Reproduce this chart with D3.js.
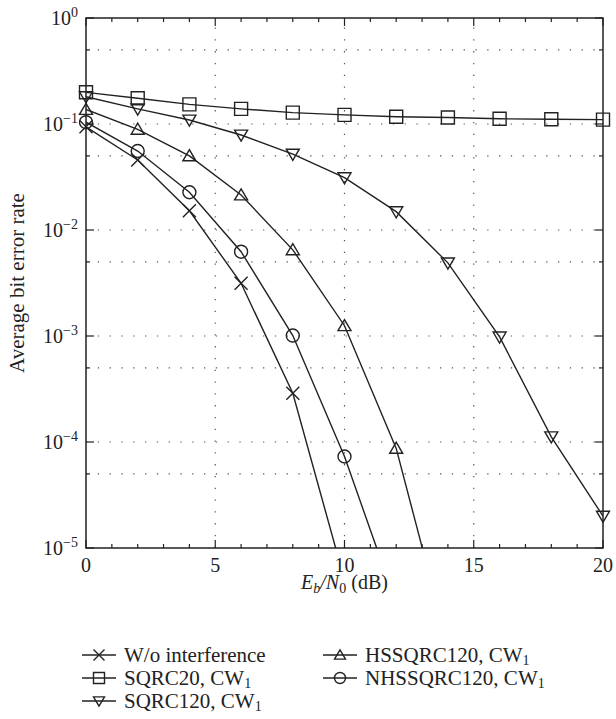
<!DOCTYPE html>
<html>
<head>
<meta charset="utf-8">
<script src="https://cdn.jsdelivr.net/npm/d3@7"></script>
<style>
  body { margin: 0; background: #fff; }
</style>
</head>
<body>
<div id="chart"></div>
<script>
//////////////////////////////////////////////////////////////////////////////
// Data

var woX   = [0, 2, 4, 6, 8, 10];
var woBer = [0.094, 0.0458, 0.0152, 0.00314, 2.88e-4, 5e-6];

var sq20X   = [0, 2, 4, 6, 8, 10, 12, 14, 16, 18, 20];
var sq20Ber = [0.199, 0.175, 0.153, 0.139, 0.128, 0.122, 0.117, 0.115, 0.112, 0.111, 0.110];

var sq120X   = [0, 2, 4, 6, 8, 10, 12, 14, 16, 18, 20];
var sq120Ber = [0.181, 0.139, 0.109, 0.0787, 0.052, 0.0312, 0.0149, 0.0049, 0.00098, 1.12e-4, 2.0e-5];

var hsX   = [0, 2, 4, 6, 8, 10, 12, 14];
var hsBer = [0.137, 0.089, 0.050, 0.0214, 0.0065, 0.00125, 8.7e-5, 1.2e-6];

var nhX   = [0, 2, 4, 6, 8, 10, 12];
var nhBer = [0.104, 0.0556, 0.0227, 0.00624, 0.00101, 7.3e-5, 3e-6];

var xTicks = [0, 5, 10, 15, 20];
var yExps  = [0, -1, -2, -3, -4, -5];

var seriesNames = ["W/o interference", "SQRC20, CW", "SQRC120, CW", "HSSQRC120, CW", "NHSSQRC120, CW"];

//////////////////////////////////////////////////////////////////////////////

var svgW = 616, svgH = 719;
var pLeft = 86, pRight = 603, pTop = 18, pBottom = 548;
var fontFam = "'Liberation Serif', 'DejaVu Serif', 'Times New Roman', serif";
var ink = "#222";

var x = d3.scaleLinear().domain([0, 20]).range([pLeft, pRight]);
var y = d3.scaleLog().domain([1e-5, 1]).range([pBottom, pTop]);

var svg = d3.select("#chart").append("svg")
    .attr("width", svgW)
    .attr("height", svgH)
    .attr("font-family", fontFam);

svg.append("defs").append("clipPath").attr("id", "plotclip")
    .append("rect")
    .attr("x", pLeft).attr("y", pTop)
    .attr("width", pRight - pLeft).attr("height", pBottom - pTop);

// grid
var gridY = [];
yExps.forEach(function(e) {
    if (e > -5 && e < 0) gridY.push(Math.pow(10, e));
    if (e < 0) gridY.push(5 * Math.pow(10, e));
});
var grid = svg.append("g")
    .attr("stroke", "#555")
    .attr("stroke-width", 1.2)
    .attr("stroke-dasharray", "1.3,10.5");
grid.selectAll(".gy").data(gridY).enter().append("line")
    .attr("x1", pLeft).attr("x2", pRight)
    .attr("y1", function(d) { return y(d); })
    .attr("y2", function(d) { return y(d); });
grid.selectAll(".gx").data([5, 10, 15]).enter().append("line")
    .attr("y1", pBottom).attr("y2", pTop)
    .attr("x1", function(d) { return x(d); })
    .attr("x2", function(d) { return x(d); });

// ticks (inward, on all four sides)
var ticks = svg.append("g").attr("stroke", ink).attr("stroke-width", 1.2);
d3.range(0, 21).forEach(function(v) {
    var len = (v % 5 === 0) ? 8 : 4;
    ticks.append("line").attr("x1", x(v)).attr("x2", x(v)).attr("y1", pBottom).attr("y2", pBottom - len);
    ticks.append("line").attr("x1", x(v)).attr("x2", x(v)).attr("y1", pTop).attr("y2", pTop + len);
});
yExps.forEach(function(e) {
    var v = Math.pow(10, e);
    ticks.append("line").attr("x1", pLeft).attr("x2", pLeft + 8).attr("y1", y(v)).attr("y2", y(v));
    ticks.append("line").attr("x1", pRight).attr("x2", pRight - 8).attr("y1", y(v)).attr("y2", y(v));
    if (e < 0) {
        var v5 = 5 * v;
        ticks.append("line").attr("x1", pLeft).attr("x2", pLeft + 4).attr("y1", y(v5)).attr("y2", y(v5));
        ticks.append("line").attr("x1", pRight).attr("x2", pRight - 4).attr("y1", y(v5)).attr("y2", y(v5));
    }
});

// box
svg.append("rect")
    .attr("x", pLeft).attr("y", pTop)
    .attr("width", pRight - pLeft).attr("height", pBottom - pTop)
    .attr("fill", "none").attr("stroke", ink).attr("stroke-width", 1.5);

// tick labels
svg.selectAll(".xl").data(xTicks).enter().append("text")
    .attr("x", function(d) { return x(d); })
    .attr("y", pBottom + 24)
    .attr("text-anchor", "middle")
    .attr("font-size", 20)
    .attr("fill", ink)
    .text(function(d) { return d; });

yExps.forEach(function(e) {
    var t = svg.append("text")
        .attr("x", pLeft - 8)
        .attr("y", y(Math.pow(10, e)) + 7)
        .attr("text-anchor", "end")
        .attr("font-size", 20)
        .attr("fill", ink);
    t.append("tspan").text("10");
    t.append("tspan").attr("dy", -8).attr("font-size", 14)
        .text(e === 0 ? "0" : "\u2212" + (-e));
});

// axis titles
var xt = svg.append("text")
    .attr("x", (pLeft + pRight) / 2)
    .attr("y", pBottom + 41)
    .attr("text-anchor", "middle")
    .attr("font-size", 20)
    .attr("fill", ink);
xt.append("tspan").attr("font-style", "italic").text("E");
xt.append("tspan").attr("font-style", "italic").attr("font-size", 14).attr("dy", 4).text("b");
xt.append("tspan").attr("font-style", "italic").attr("dy", -4).text("/N");
xt.append("tspan").attr("font-size", 14).attr("dy", 4).text("0");
xt.append("tspan").attr("dy", -4).text(" (dB)");

svg.append("text")
    .attr("transform", "translate(24," + ((pTop + pBottom) / 2) + ") rotate(-90)")
    .attr("text-anchor", "middle")
    .attr("font-size", 21)
    .attr("fill", ink)
    .text("Average bit error rate");

//////////////////////////////////////////////////////////////////////////////
// markers

function markerPath(type, s) {
    var h = s / 2;
    switch (type) {
        case "x":
            return "M" + (-h) + "," + (-h) + "L" + h + "," + h + "M" + h + "," + (-h) + "L" + (-h) + "," + h;
        case "square":
            return "M" + (-h) + "," + (-h) + "H" + h + "V" + h + "H" + (-h) + "Z";
        case "down":
            return "M" + (-h) + "," + (-h * 0.75) + "H" + h + "L0," + (h * 0.95) + "Z";
        case "up":
            return "M" + (-h) + "," + (h * 0.75) + "H" + h + "L0," + (-h * 0.95) + "Z";
        case "circle":
            return "M" + h + ",0A" + h + "," + h + " 0 1,1 " + (-h) + ",0A" + h + "," + h + " 0 1,1 " + h + ",0Z";
        default:
            return "M0,0";
    }
}

var series = [
    { name: seriesNames[0], xs: woX,    ys: woBer,    marker: "x",      sub: false },
    { name: seriesNames[1], xs: sq20X,  ys: sq20Ber,  marker: "square", sub: true },
    { name: seriesNames[2], xs: sq120X, ys: sq120Ber, marker: "down",   sub: true },
    { name: seriesNames[3], xs: hsX,    ys: hsBer,    marker: "up",     sub: true },
    { name: seriesNames[4], xs: nhX,    ys: nhBer,    marker: "circle", sub: true }
];

var line = d3.line()
    .x(function(d) { return x(d[0]); })
    .y(function(d) { return y(d[1]); });

var plot = svg.append("g").attr("clip-path", "url(#plotclip)");

series.forEach(function(s) {
    var pts = s.xs.map(function(v, i) { return [v, s.ys[i]]; });
    plot.append("path")
        .attr("d", line(pts))
        .attr("fill", "none")
        .attr("stroke", ink)
        .attr("stroke-width", 1.4);
});

series.forEach(function(s) {
    var pts = s.xs.map(function(v, i) { return [v, s.ys[i]]; })
        .filter(function(d) { return d[1] >= 1e-5; });
    svg.append("g").selectAll("path").data(pts).enter().append("path")
        .attr("transform", function(d) { return "translate(" + x(d[0]) + "," + y(d[1]) + ")"; })
        .attr("d", markerPath(s.marker, 13))
        .attr("fill", "none")
        .attr("stroke", ink)
        .attr("stroke-width", 1.4);
});

//////////////////////////////////////////////////////////////////////////////
// legend

var legendPos = [
    { lx: 82,  ly: 655 },
    { lx: 82,  ly: 678 },
    { lx: 82,  ly: 701 },
    { lx: 323, ly: 655 },
    { lx: 323, ly: 678 }
];

series.forEach(function(s, i) {
    var p = legendPos[i];
    var g = svg.append("g").attr("transform", "translate(" + p.lx + "," + p.ly + ")");
    g.append("line").attr("x1", 0).attr("x2", 34).attr("y1", 0).attr("y2", 0)
        .attr("stroke", ink).attr("stroke-width", 1.4);
    g.append("path")
        .attr("transform", "translate(17,0)")
        .attr("d", markerPath(s.marker, 11))
        .attr("fill", "none").attr("stroke", ink).attr("stroke-width", 1.4);
    var t = g.append("text").attr("x", 42).attr("y", 7).attr("font-size", 21).attr("fill", ink);
    t.append("tspan").text(s.name);
    if (s.sub) t.append("tspan").attr("font-size", 14).attr("dy", 3).text("1");
});
</script>
</body>
</html>
